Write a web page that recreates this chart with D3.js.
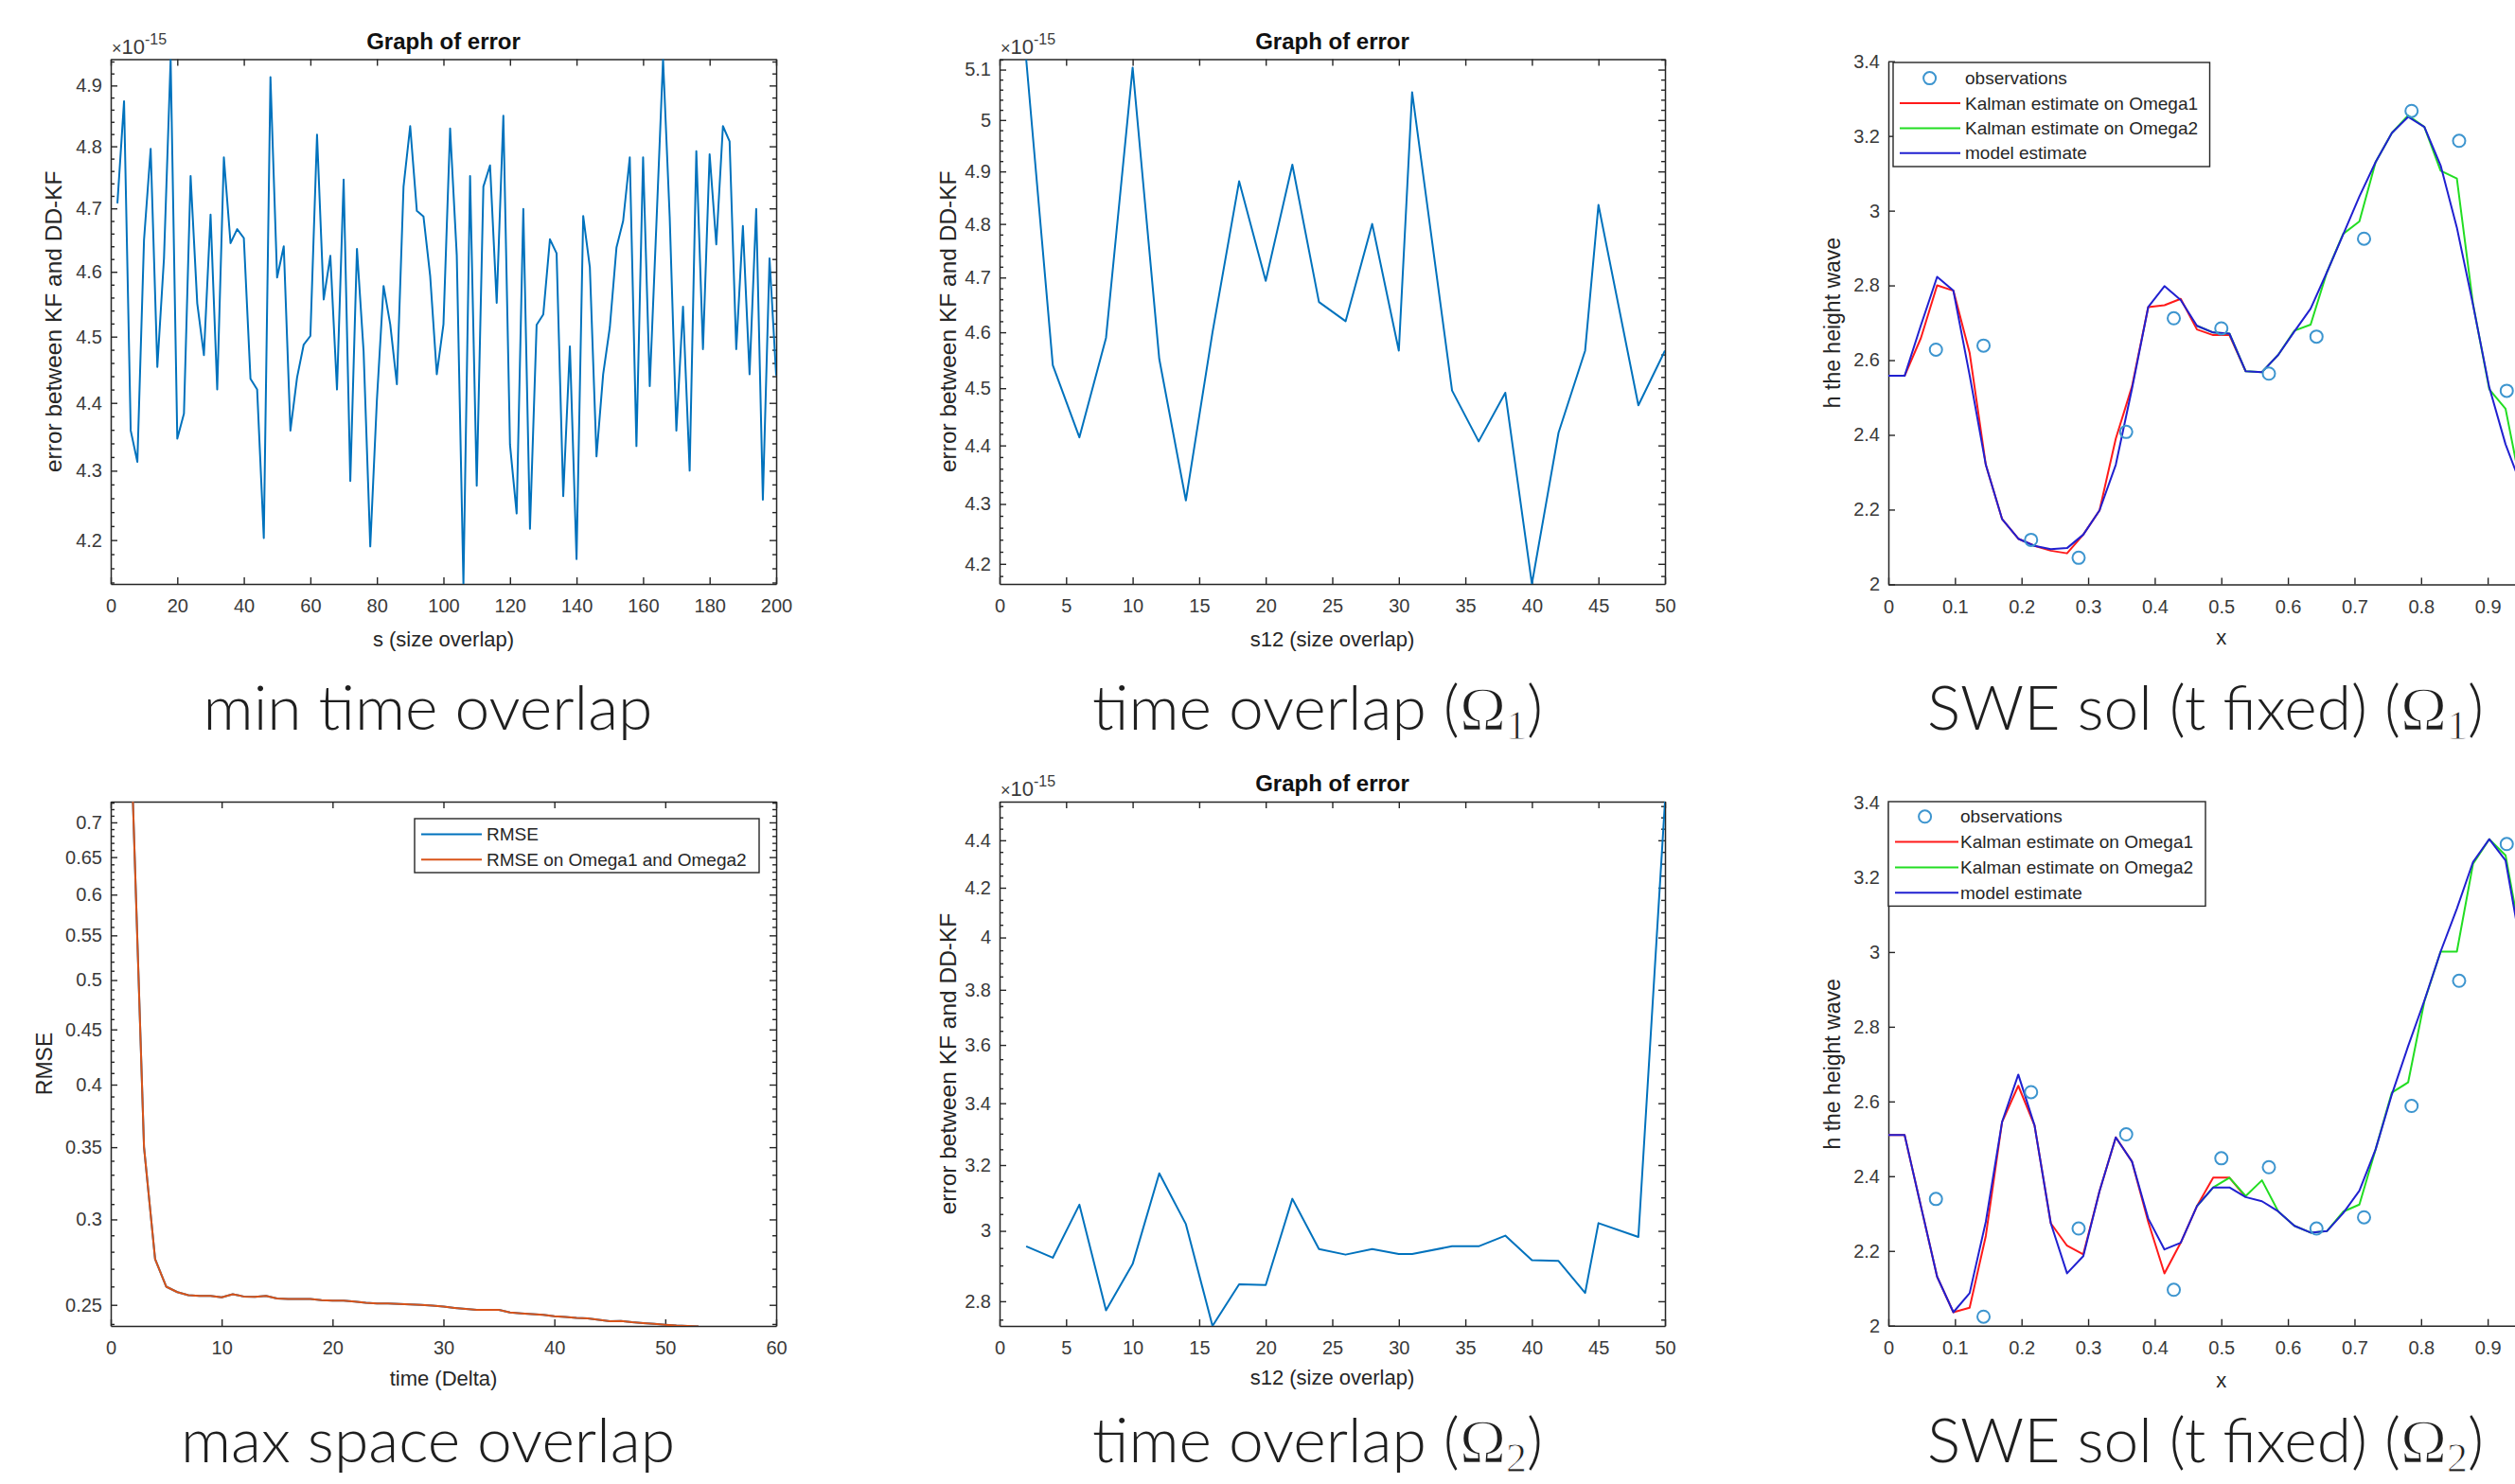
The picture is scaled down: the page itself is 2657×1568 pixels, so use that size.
<!DOCTYPE html>
<html>
<head>
<meta charset="utf-8">
<script src="https://cdn.jsdelivr.net/npm/d3@7"></script>
<style>
 body { margin: 0; background: #fff; }
 svg { display: block; font-family: "Liberation Sans", Arial, sans-serif; }
 .caption { font-family: Lato, sans-serif; font-weight: 300; fill: #1f1f1f; }
</style>
</head>
<body>
<svg id="fig" width="2657" height="1568"></svg>
<script>
// ---------- data ----------
// min time overlap : s (size overlap) vs error (x1e-15)
const sOverlap = [2,4,6,8,10,12,14,16,18,20,22,24,26,28,30,32,34,36,38,40,
 42,44,46,48,50,52,54,56,58,60,62,64,66,68,70,72,74,76,78,80,
 82,84,86,88,90,92,94,96,98,100,102,104,106,108,110,112,114,116,118,120,
 122,124,126,128,130,132,134,136,138,140,142,144,146,148,150,152,154,156,158,160,
 162,164,166,168,170,172,174,176,178,180,182,184,186,188,190,192,194,196,198,200];
const errMinTime = [4.708,4.874,4.359,4.313,4.650,4.796,4.454,4.621,4.944,4.347,
 4.384,4.752,4.551,4.472,4.690,4.420,4.782,4.645,4.667,4.653,
 4.436,4.420,4.203,4.914,4.591,4.640,4.359,4.438,4.488,4.501,
 4.819,4.557,4.625,4.420,4.746,4.285,4.636,4.477,4.191,4.405,
 4.578,4.519,4.428,4.735,4.833,4.696,4.687,4.594,4.443,4.519,
 4.829,4.626,4.138,4.752,4.278,4.735,4.769,4.552,4.850,4.338,
 4.238,4.699,4.216,4.518,4.534,4.651,4.629,4.263,4.485,4.173,
 4.688,4.607,4.321,4.443,4.514,4.638,4.680,4.782,4.336,4.782,
 4.425,4.675,4.944,4.686,4.359,4.546,4.300,4.792,4.481,4.787,
 4.643,4.833,4.808,4.481,4.672,4.443,4.699,4.258,4.621,4.441];

// time overlap : s12 (size overlap) vs error (x1e-15)
const s12 = [2,4,6,8,10,12,14,16,18,20,22,24,26,28,30,31,34,36,38,40,42,44,45,48,50];
const errOmega1 = [5.121,4.541,4.414,4.590,5.104,4.552,4.306,4.600,4.881,4.694,4.913,4.655,4.620,
 4.800,4.567,5.055,4.496,4.407,4.492,4.167,4.422,4.567,4.836,4.470,4.567];
const errOmega2 = [2.955,2.922,3.078,2.775,2.904,3.174,3.020,2.733,2.847,2.845,3.096,2.947,2.931,
 2.947,2.933,2.933,2.955,2.955,2.986,2.915,2.913,2.823,3.023,2.982,4.570];

// max space overlap : time (Delta) vs RMSE
const timeDelta = [2,3,4,5,6,7,8,9,10,11,12,13,14,15,16,17,18,19,20,21,22,23,24,25,26,27,
 28,29,30,31,32,33,34,35,36,37,38,39,40,41,42,43,44,45,46,47,48,49,50,51,52,53];
const rmse = [0.7317,0.350,0.2756,0.2599,0.2569,0.2552,0.2548,0.2548,0.2541,0.2557,0.2545,0.2543,0.2548,
 0.2534,0.2532,0.2532,0.2532,0.2525,0.2523,0.2523,0.2518,0.2511,0.2507,0.2507,0.2505,0.2502,
 0.2500,0.2496,0.2491,0.2484,0.2478,0.2473,0.2473,0.2473,0.2460,0.2455,0.2451,0.2447,0.2440,0.2436,
 0.2431,0.2429,0.2422,0.2414,0.2416,0.2409,0.2405,0.2401,0.2396,0.2392,0.2390,0.2388];
const rmseOmega = rmse.slice();

// SWE solution at fixed t
const gridX = [0,0.0244,0.0488,0.0732,0.0976,0.1220,0.1463,0.1707,0.1951,0.2195,
 0.2439,0.2683,0.2927,0.3171,0.3415,0.3659,0.3902,0.4146,0.4390,0.4634,
 0.4878,0.5122,0.5366,0.5610,0.5854,0.6098,0.6341,0.6585,0.6829,0.7073,
 0.7317,0.7561,0.7805,0.8049,0.8293,0.8537,0.8780,0.9024,0.9268,0.9512];
const obsX = [0.0714,0.1429,0.2143,0.2857,0.3571,0.4286,0.5,0.5714,0.6429,0.7143,0.7857,0.8571,0.9286];

const obsH1 = [2.628,2.639,2.119,2.071,2.408,2.712,2.685,2.564,2.663,2.925,3.267,3.187,2.518];
const modelH1 = [2.558,2.558,2.693,2.823,2.786,2.560,2.320,2.175,2.122,2.103,
 2.094,2.097,2.133,2.198,2.320,2.524,2.742,2.798,2.761,2.692,
 2.674,2.671,2.570,2.568,2.614,2.677,2.738,2.835,2.936,3.038,
 3.130,3.208,3.251,3.224,3.121,2.955,2.748,2.527,2.375,2.260];
const kalmanO1H1 = [2.558,2.558,2.659,2.800,2.786,2.620,2.320,2.175,2.122,2.103,2.090,2.083,
 2.133,2.198,2.390,2.530,2.742,2.747,2.764,2.682,2.667,2.667,2.570];           // grid 0..22
const kalmanO2H1 = [2.692,2.674,2.671,2.570,2.568,2.614,2.679,2.695,2.835,2.938,2.971,
 3.130,3.208,3.255,3.224,3.107,3.086,2.750,2.522,2.470,2.250];                 // grid 19..39

const obsH2 = [2.339,2.024,2.625,2.260,2.512,2.096,2.448,2.424,2.260,2.290,2.588,2.923,3.289];
const modelH2 = [2.510,2.510,2.320,2.131,2.036,2.087,2.278,2.545,2.672,2.536,
 2.274,2.140,2.186,2.360,2.504,2.439,2.287,2.204,2.222,2.320,
 2.370,2.370,2.344,2.333,2.306,2.267,2.249,2.253,2.301,2.361,
 2.472,2.619,2.748,2.870,3.001,3.116,3.241,3.302,3.245,3.000];
const kalmanO1H2 = [2.510,2.510,2.320,2.131,2.036,2.048,2.240,2.545,2.642,2.536,2.274,2.214,
 2.191,2.360,2.504,2.439,2.278,2.140,2.222,2.320,2.396,2.396,2.344];
const kalmanO2H2 = [2.320,2.370,2.396,2.347,2.389,2.306,2.267,2.249,2.253,2.305,2.324,
 2.472,2.624,2.651,2.868,3.001,3.001,3.236,3.302,3.259,3.020];
const O2_START = 19;

// tick labels
const ticksS = [0,20,40,60,80,100,120,140,160,180,200];
const ticksErr1 = [4.2,4.3,4.4,4.5,4.6,4.7,4.8,4.9];
const ticksS12 = [0,5,10,15,20,25,30,35,40,45,50];
const ticksErr2 = [4.2,4.3,4.4,4.5,4.6,4.7,4.8,4.9,5,5.1];
const ticksErr3 = [2.8,3,3.2,3.4,3.6,3.8,4,4.2,4.4];
const ticksTime = [0,10,20,30,40,50,60];
const ticksRmse = [0.25,0.3,0.35,0.4,0.45,0.5,0.55,0.6,0.65,0.7];
const ticksXswe = [0,0.1,0.2,0.3,0.4,0.5,0.6,0.7,0.8,0.9];
const ticksH = [2,2.2,2.4,2.6,2.8,3,3.2,3.4];

// ---------- drawing ----------
const svg = d3.select("#fig");
const axisColor = "#262626";
const textColor = "#3a3a3a";
const lineBlue = "#0072bd";
const TICK = 7;
const fmt = d => String(+d.toFixed(2));
let clipN = 0;

function styleAxis(sel) {
  sel.select(".domain").attr("stroke", axisColor).attr("stroke-width", 1.5);
  sel.selectAll(".tick line").attr("stroke", axisColor).attr("stroke-width", 1.4);
  sel.selectAll(".tick text").attr("fill", textColor)
    .style("font-size", "20px").style("font-family", "'Liberation Sans', Arial, sans-serif");
}
const noText = sel => sel.selectAll(".tick text").remove();

function minorValues(domain, step) {
  const lo = Math.ceil(domain[0] / step - 1e-9), hi = Math.floor(domain[1] / step + 1e-9);
  return d3.range(lo, hi + 1).map(k => +(k * step).toFixed(4));
}

function makePanel(o) {
  const x = d3.scaleLinear().domain(o.xDomain).range([o.left, o.right]);
  const y = (o.log ? d3.scaleLog() : d3.scaleLinear()).domain(o.yDomain).range([o.bottom, o.top]);
  const g = svg.append("g");

  g.append("g").attr("transform", `translate(0,${o.bottom})`)
    .call(d3.axisBottom(x).tickValues(o.xTicks).tickFormat(fmt)
      .tickSizeInner(-TICK).tickSizeOuter(0).tickPadding(16))
    .call(styleAxis);
  g.append("g").attr("transform", `translate(${o.left},0)`)
    .call(d3.axisLeft(y).tickValues(o.yTicks).tickFormat(fmt)
      .tickSizeInner(-TICK).tickSizeOuter(0).tickPadding(9))
    .call(styleAxis);

  if (o.box) {
    g.append("g").attr("transform", `translate(0,${o.top})`)
      .call(d3.axisTop(x).tickValues(o.xTicks).tickSizeInner(-TICK).tickSizeOuter(0))
      .call(styleAxis).call(noText);
    g.append("g").attr("transform", `translate(${o.right},0)`)
      .call(d3.axisRight(y).tickValues(o.yTicks).tickSizeInner(-TICK).tickSizeOuter(0))
      .call(styleAxis).call(noText);
  }
  if (o.minor) {
    const mv = minorValues(y.domain(), o.minor).filter(v => !o.yTicks.some(t => Math.abs(t - v) < 1e-6));
    const sides = o.box ? [[d3.axisLeft, o.left], [d3.axisRight, o.right]] : [[d3.axisLeft, o.left]];
    sides.forEach(([ax, px]) => {
      g.append("g").attr("transform", `translate(${px},0)`)
        .call(ax(y).tickValues(mv).tickSizeInner(-4).tickSizeOuter(0))
        .call(styleAxis).call(noText)
        .call(s => s.select(".domain").remove());
    });
  }

  const id = "clip" + (clipN++);
  svg.append("clipPath").attr("id", id).append("rect")
    .attr("x", o.left).attr("y", o.top)
    .attr("width", o.right - o.left).attr("height", o.bottom - o.top);
  const plot = g.append("g").attr("clip-path", `url(#${id})`);

  // labels
  g.append("text").attr("x", (o.left + o.right) / 2).attr("y", o.xLabelY)
    .attr("text-anchor", "middle").attr("fill", axisColor)
    .style("font-size", "22px").text(o.xLabel);
  g.append("text").attr("transform", `translate(${o.yLabelX},${(o.top + o.bottom) / 2}) rotate(-90)`)
    .attr("text-anchor", "middle").attr("dy", "0.35em").attr("fill", axisColor)
    .style("font-size", (o.yLabelSize || 23) + "px").text(o.yLabel);
  if (o.title) {
    g.append("text").attr("x", (o.left + o.right) / 2).attr("y", o.top - 11)
      .attr("text-anchor", "middle").attr("fill", "#111")
      .style("font-size", "24px").style("font-weight", "bold").text(o.title);
  }
  if (o.exponent) {
    const t = g.append("text").attr("x", o.left + 1).attr("y", o.top - 6).attr("fill", textColor);
    t.append("tspan").style("font-size", "18px").text("×");
    t.append("tspan").style("font-size", "22px").text("10");
    t.append("tspan").attr("dy", -10).style("font-size", "16px").text(o.exponent);
  }
  return { x, y, g, plot };
}

function drawLine(p, xs, ys, color, width) {
  p.plot.append("path")
    .datum(xs.map((d, i) => [d, ys[i]]))
    .attr("fill", "none").attr("stroke", color).attr("stroke-width", width || 2)
    .attr("stroke-linejoin", "round")
    .attr("d", d3.line().x(d => p.x(d[0])).y(d => p.y(d[1])));
}

function drawLegend(p, box, rows, items) {
  const lg = p.g.append("g");
  lg.append("rect").attr("x", box[0]).attr("y", box[1])
    .attr("width", box[2] - box[0]).attr("height", box[3] - box[1])
    .attr("fill", "#fff").attr("stroke", axisColor).attr("stroke-width", 1.4);
  items.forEach((it, k) => {
    const cy = rows.first + k * rows.step;
    if (it.marker) {
      lg.append("circle").attr("cx", rows.marker).attr("cy", cy).attr("r", 6.5)
        .attr("fill", "none").attr("stroke", it.color).attr("stroke-width", 2);
    } else {
      lg.append("line").attr("x1", rows.l0).attr("x2", rows.l1).attr("y1", cy).attr("y2", cy)
        .attr("stroke", it.color).attr("stroke-width", 2);
    }
    lg.append("text").attr("x", rows.text).attr("y", cy).attr("dy", "0.35em")
      .attr("fill", axisColor).style("font-size", "19px").text(it.label);
  });
}

// panel 1 : min time overlap
const p1 = makePanel({
  left: 117, right: 820, top: 62.5, bottom: 617,
  xDomain: [0, 200], yDomain: d3.extent(errMinTime), log: true,
  xTicks: ticksS, yTicks: ticksErr1, minor: 0.02, box: true,
  xLabel: "s (size overlap)", xLabelY: 683, yLabel: "error between KF and DD-KF", yLabelX: 56, yLabelSize: 24.5,
  title: "Graph of error", exponent: "-15"
});
drawLine(p1, sOverlap, errMinTime, lineBlue);

// panel 2 : time overlap Omega1
const p2 = makePanel({
  left: 1056, right: 1759, top: 62.5, bottom: 617,
  xDomain: [0, 50], yDomain: d3.extent(errOmega1), log: true,
  xTicks: ticksS12, yTicks: ticksErr2, minor: 0.02, box: true,
  xLabel: "s12 (size overlap)", xLabelY: 683, yLabel: "error between KF and DD-KF", yLabelX: 1001, yLabelSize: 24.5,
  title: "Graph of error", exponent: "-15"
});
drawLine(p2, s12, errOmega1, lineBlue);

// panel 3 : SWE solution Omega1
const sweItems = [
  { label: "observations", color: "#3d95cf", marker: true },
  { label: "Kalman estimate on Omega1", color: "#ff1a1a" },
  { label: "Kalman estimate on Omega2", color: "#22dd22" },
  { label: "model estimate", color: "#2020d0" }
];
function sweSeries(p, obs, kal1, kal2, model) {
  p.g.selectAll(null).data(obsX.map((d, i) => [d, obs[i]])).join("circle")
    .attr("cx", d => p.x(d[0])).attr("cy", d => p.y(d[1])).attr("r", 6.5)
    .attr("fill", "none").attr("stroke", sweItems[0].color).attr("stroke-width", 2);
  drawLine(p, gridX.slice(0, kal1.length), kal1, sweItems[1].color);
  drawLine(p, gridX.slice(O2_START, O2_START + kal2.length), kal2, sweItems[2].color);
  drawLine(p, gridX, model, sweItems[3].color);
}
const p3 = makePanel({
  left: 1995, right: 2698.5, top: 64.7, bottom: 617.4,
  xDomain: [0, 1], yDomain: [2, 3.4], log: false,
  xTicks: ticksXswe, yTicks: ticksH, box: false,
  xLabel: "x", xLabelY: 681, yLabel: "h the height wave", yLabelX: 1936
});
sweSeries(p3, obsH1, kalmanO1H1, kalmanO2H1, modelH1);
drawLegend(p3, [2000, 66, 2334.5, 176],
  { first: 82.6, step: 26.4, marker: 2038.6, l0: 2007, l1: 2071, text: 2076 }, sweItems);

// panel 4 : max space overlap
const p4 = makePanel({
  left: 117, right: 820, top: 847, bottom: 1401,
  xDomain: [0, 60], yDomain: [0.239, 0.7317], log: true,
  xTicks: ticksTime, yTicks: ticksRmse, minor: 0.01, box: true,
  xLabel: "time (Delta)", xLabelY: 1464, yLabel: "RMSE", yLabelX: 47
});
drawLine(p4, timeDelta, rmse, lineBlue);
drawLine(p4, timeDelta, rmseOmega, "#d95319");
drawLegend(p4, [438, 865, 802, 922],
  { first: 881.5, step: 26.8, l0: 445, l1: 509, text: 514 },
  [{ label: "RMSE", color: lineBlue }, { label: "RMSE on Omega1 and Omega2", color: "#d95319" }]);

// panel 5 : time overlap Omega2
const p5 = makePanel({
  left: 1056, right: 1759, top: 847, bottom: 1401,
  xDomain: [0, 50], yDomain: d3.extent(errOmega2), log: true,
  xTicks: ticksS12, yTicks: ticksErr3, minor: 0.05, box: true,
  xLabel: "s12 (size overlap)", xLabelY: 1463, yLabel: "error between KF and DD-KF", yLabelX: 1001, yLabelSize: 24.5,
  title: "Graph of error", exponent: "-15"
});
drawLine(p5, s12, errOmega2, lineBlue);

// panel 6 : SWE solution Omega2
const p6 = makePanel({
  left: 1995, right: 2698.5, top: 848, bottom: 1400.7,
  xDomain: [0, 1], yDomain: [2, 3.4], log: false,
  xTicks: ticksXswe, yTicks: ticksH, box: false,
  xLabel: "x", xLabelY: 1466, yLabel: "h the height wave", yLabelX: 1936
});
sweSeries(p6, obsH2, kalmanO1H2, kalmanO2H2, modelH2);
drawLegend(p6, [1995, 847, 2330, 957.4],
  { first: 862.8, step: 26.8, marker: 2033.6, l0: 2002, l1: 2069, text: 2071 }, sweItems);

// captions
function caption(cx, baseline, text, sub) {
  const t = svg.append("text").attr("class", "caption")
    .attr("x", cx).attr("y", baseline).attr("text-anchor", "middle").style("font-size", "66px");
  t.append("tspan").text(text);
  if (sub) {
    const serif = sel => sel.style("font-family", "'Liberation Serif', serif").style("font-weight", 400)
      .attr("stroke", "#fff").attr("stroke-width", 1.6);
    t.append("tspan").call(serif).text("Ω");
    t.append("tspan").attr("dy", 10).call(serif).attr("stroke-width", 1).style("font-size", "44px").text(sub);
    t.append("tspan").attr("dy", -10).text(")");
  }
}
caption(452, 771, "min time overlap");
caption(1392, 771, "time overlap (", "1");
caption(2330, 771, "SWE sol (t fixed) (", "1");
caption(452, 1545, "max space overlap");
caption(1392, 1545, "time overlap (", "2");
caption(2330, 1545, "SWE sol (t fixed) (", "2");
</script>
</body>
</html>
